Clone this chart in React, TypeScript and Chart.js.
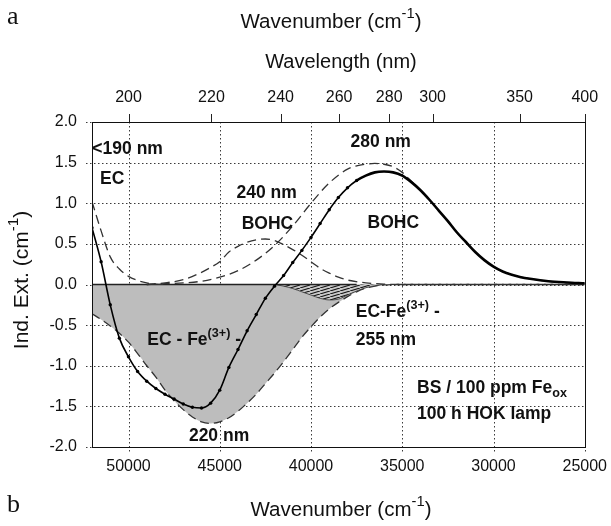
import React, { useEffect, useRef } from 'react';
import { Chart, registerables } from 'chart.js';

Chart.register(...registerables);

const FONT = "'Liberation Sans', Arial, Helvetica, sans-serif";

// Axis ticks
const wavenumberTicks = [50000, 45000, 40000, 35000, 30000, 25000];
const wavelengthTicks = [200, 220, 240, 260, 280, 300, 350, 400];

// Measured induced extinction (solid, beaded)
const wnMeasured = [52000, 51500, 51000, 50500, 50000, 49500, 49000, 48500, 48000, 47500, 47000, 46500, 46000, 45500, 45000, 44500, 44000, 43500, 43000, 42500, 42000, 41500, 41000, 40500, 40000, 39500, 39000, 38500, 38000, 37500, 37000, 36500, 36000, 35500, 35000, 34500, 34000, 33500, 33000, 32500, 32000, 31500, 31000, 30500, 30000, 29500, 29000, 28500, 28000, 27000, 26000, 25000];
const extMeasured = [0.70, 0.28, -0.25, -0.66, -0.89, -1.07, -1.19, -1.28, -1.35, -1.41, -1.47, -1.51, -1.52, -1.46, -1.30, -1.02, -0.80, -0.57, -0.37, -0.17, -0.02, 0.11, 0.27, 0.42, 0.58, 0.75, 0.92, 1.07, 1.19, 1.28, 1.34, 1.38, 1.39, 1.38, 1.34, 1.26, 1.16, 1.04, 0.91, 0.78, 0.64, 0.52, 0.40, 0.30, 0.22, 0.16, 0.12, 0.09, 0.07, 0.04, 0.025, 0.015];

// EC band (<190 nm), dashed
const wnEC = [52000, 51500, 51000, 50500, 50000, 49500, 49000, 48500, 48000];
const extEC = [1.02, 0.66, 0.34, 0.19, 0.10, 0.05, 0.02, 0.005, 0];

// BOHC 240 nm band, dashed
const wnBOHC240 = [49000, 48000, 47000, 46000, 45500, 45000, 44500, 44000, 43500, 43000, 42500, 42000, 41500, 41000, 40500, 40000, 39500, 39000, 38500, 38000, 37000, 36000, 35000, 25000];
const extBOHC240 = [0, 0.02, 0.06, 0.15, 0.21, 0.28, 0.40, 0.47, 0.52, 0.55, 0.56, 0.54, 0.49, 0.43, 0.36, 0.28, 0.20, 0.14, 0.09, 0.055, 0.02, 0.005, 0, 0];

// BOHC 280 nm band, dashed
const wnBOHC280 = [49000, 48000, 47000, 46000, 45000, 44000, 43000, 42000, 41000, 40000, 39000, 38000, 37500, 37000, 36500, 36000, 35500, 35000, 34500, 34000, 33000, 32000, 31000, 30000, 29000, 28000, 27000, 26000, 25000];
const extBOHC280 = [0, 0.01, 0.02, 0.04, 0.09, 0.17, 0.30, 0.48, 0.72, 1.00, 1.25, 1.42, 1.46, 1.48, 1.49, 1.48, 1.45, 1.38, 1.27, 1.16, 0.91, 0.64, 0.40, 0.22, 0.12, 0.07, 0.04, 0.025, 0.015];

// EC-Fe(3+) bands, sum envelope (grey area, dashed border)
const wnFeSum = [52000, 51500, 51000, 50500, 50000, 49500, 49000, 48500, 48000, 47500, 47000, 46500, 46000, 45500, 45000, 44500, 44000, 43500, 43000, 42500, 42000, 41500, 41000, 40500, 40000, 39500, 39000, 38500, 38000, 37500, 37000, 36500, 36000, 35000, 25000];
const extFeSum = [-0.36, -0.43, -0.51, -0.60, -0.71, -0.85, -1.00, -1.14, -1.30, -1.43, -1.54, -1.63, -1.69, -1.71, -1.69, -1.64, -1.56, -1.46, -1.35, -1.22, -1.09, -0.95, -0.80, -0.65, -0.52, -0.40, -0.30, -0.22, -0.15, -0.09, -0.045, -0.02, -0.005, 0, 0];

// EC-Fe(3+) 255 nm band (hatched)
const wnFe255 = [42000, 41500, 41000, 40500, 40000, 39500, 39000, 38500, 38000, 37500, 37000, 36500, 36000];
const extFe255 = [0, -0.02, -0.05, -0.09, -0.13, -0.17, -0.19, -0.18, -0.13, -0.08, -0.04, -0.015, 0];

// zero baseline along the top of the grey area
const wnBaseline = [52000, 37500];
const extBaseline = [0, 0];

type Part = [string, '' | 'sup' | 'sub'];
const notes: { parts: Part[]; wn: number; ext: number }[] = [
  { parts: [['<190 nm', '']], wn: 51980, ext: 1.66 },
  { parts: [['EC', '']], wn: 51560, ext: 1.30 },
  { parts: [['240 nm', '']], wn: 44080, ext: 1.13 },
  { parts: [['BOHC', '']], wn: 43800, ext: 0.74 },
  { parts: [['280 nm', '']], wn: 37830, ext: 1.75 },
  { parts: [['BOHC', '']], wn: 36900, ext: 0.76 },
  { parts: [['EC - Fe', ''], ['(3+)', 'sup'], [' -', '']], wn: 48970, ext: -0.68 },
  { parts: [['EC-Fe', ''], ['(3+)', 'sup'], [' -', '']], wn: 37550, ext: -0.34 },
  { parts: [['255 nm', '']], wn: 37550, ext: -0.68 },
  { parts: [['BS / 100 ppm Fe', ''], ['ox', 'sub']], wn: 34190, ext: -1.28 },
  { parts: [['100 h HOK lamp', '']], wn: 34190, ext: -1.59 },
  { parts: [['220 nm', '']], wn: 46690, ext: -1.87 },
];

const pts = (xs: number[], ys: number[]) => xs.map((x, i) => ({ x, y: ys[i] }));

function drawRich(ctx: CanvasRenderingContext2D, parts: Part[], x: number, y: number, align: 'left' | 'center', size: number, weight: string) {
  const small = size * 0.72;
  const fontOf = (s: number) => `${weight} ${s}px ${FONT}`;
  let total = 0;
  const widths = parts.map(([t, m]) => {
    ctx.font = fontOf(m ? small : size);
    const w = ctx.measureText(t).width;
    total += w;
    return w;
  });
  let cx = align === 'center' ? x - total / 2 : x;
  ctx.textBaseline = 'middle';
  ctx.textAlign = 'left';
  parts.forEach(([t, m], i) => {
    ctx.font = fontOf(m ? small : size);
    const dy = m === 'sup' ? -size * 0.38 : m === 'sub' ? size * 0.3 : 0;
    ctx.fillText(t, cx, y + dy);
    cx += widths[i];
  });
}

const gridPlugin = {
  id: 'dottedGrid',
  beforeDatasetsDraw(chart: any) {
    const ctx: CanvasRenderingContext2D = chart.ctx;
    const { left, right, top, bottom } = chart.chartArea;
    const xs = chart.scales.x;
    const ys = chart.scales.y;
    const x2 = chart.scales.x2;
    ctx.save();
    ctx.lineWidth = 1;
    ctx.strokeStyle = '#3a3a3a';
    ctx.setLineDash([1.5, 2.5]);
    ys.ticks.forEach((t: any) => {
      const py = Math.round(ys.getPixelForValue(t.value)) + 0.5;
      ctx.beginPath();
      ctx.moveTo(left - 6, py);
      ctx.lineTo(right, py);
      ctx.stroke();
    });
    xs.ticks.forEach((t: any) => {
      const px = Math.round(xs.getPixelForValue(t.value)) + 0.5;
      ctx.beginPath();
      ctx.moveTo(px, top);
      ctx.lineTo(px, bottom + 6);
      ctx.stroke();
    });
    ctx.setLineDash([]);
    ctx.strokeStyle = '#222';
    x2.ticks.forEach((t: any) => {
      const px = Math.round(x2.getPixelForValue(t.value)) + 0.5;
      ctx.beginPath();
      ctx.moveTo(px, top - 8);
      ctx.lineTo(px, top);
      ctx.stroke();
    });
    ctx.restore();
  },
};

const framePlugin = {
  id: 'frameAndTexts',
  afterDraw(chart: any) {
    const ctx: CanvasRenderingContext2D = chart.ctx;
    const { left, right, top, bottom } = chart.chartArea;
    const xs = chart.scales.x;
    const ys = chart.scales.y;
    ctx.save();
    ctx.strokeStyle = '#111';
    ctx.lineWidth = 1;
    ctx.strokeRect(Math.round(left) + 0.5, Math.round(top) + 0.5, Math.round(right - left), Math.round(bottom - top));
    ctx.fillStyle = '#111';
    notes.forEach((n) => drawRich(ctx, n.parts, xs.getPixelForValue(n.wn), ys.getPixelForValue(n.ext), 'left', 17.5, 'bold'));
    drawRich(ctx, [['Wavenumber (cm', ''], ['-1', 'sup'], [')', '']], 331, 22, 'center', 20.5, 'normal');
    drawRich(ctx, [['Wavelength (nm)', '']], 341, 62, 'center', 20, 'normal');
    drawRich(ctx, [['Wavenumber (cm', ''], ['-1', 'sup'], [')', '']], 341, 510, 'center', 20.5, 'normal');
    ctx.font = "26px 'Liberation Serif', 'Times New Roman', serif";
    ctx.textBaseline = 'middle';
    ctx.textAlign = 'left';
    ctx.fillText('a', 7, 17);
    ctx.fillText('b', 7, 505);
    ctx.translate(22, 280);
    ctx.rotate(-Math.PI / 2);
    drawRich(ctx, [['Ind. Ext. (cm', ''], ['-1', 'sup'], [')', '']], 0, 0, 'center', 21, 'normal');
    ctx.restore();
  },
};

export default function App() {
  const ref = useRef<HTMLCanvasElement>(null);
  useEffect(() => {
    document.body.style.margin = '0';
    const canvas = ref.current!;
    const pc = document.createElement('canvas');
    pc.width = 10;
    pc.height = 3;
    const p = pc.getContext('2d')!;
    p.fillStyle = '#c8c8c8';
    p.fillRect(0, 0, 10, 3);
    p.strokeStyle = '#111';
    p.lineWidth = 1.1;
    p.beginPath();
    for (let k = -1; k <= 1; k++) {
      p.moveTo(k * 10, 3);
      p.lineTo(k * 10 + 10, 0);
    }
    p.stroke();
    const hatch = p.createPattern(pc, 'repeat')!;

    const dashed = { borderColor: '#333', borderWidth: 1.3, borderDash: [9, 5], pointRadius: 0, fill: false, cubicInterpolationMode: 'monotone' as const };
    const tickFont = { size: 16, family: FONT };
    const noGrid = { color: 'rgba(0,0,0,0)', tickColor: 'rgba(0,0,0,0)' };
    const chart = new Chart(canvas, {
      type: 'line',
      data: {
        datasets: [
          {
            data: pts(wnMeasured, extMeasured),
            borderColor: '#000',
            borderWidth: 2.5,
            cubicInterpolationMode: 'monotone',
            segment: { borderWidth: (c: any) => (c.p0.parsed.x > 37500 ? 1.6 : 2.6) },
            pointRadius: (c: any) => (c.raw && c.raw.x >= 37500 ? 1.7 : 0),
            pointBackgroundColor: '#000',
            pointBorderWidth: 0,
            fill: false,
            order: 1,
          },
          { ...dashed, data: pts(wnEC, extEC), order: 3 },
          { ...dashed, data: pts(wnBOHC240, extBOHC240), order: 3 },
          { ...dashed, data: pts(wnBOHC280, extBOHC280), order: 3 },
          { data: pts(wnBaseline, extBaseline), borderColor: '#222', borderWidth: 1.4, pointRadius: 0, fill: false, order: 4 },
          {
            data: pts(wnFe255, extFe255),
            borderColor: '#333',
            borderWidth: 0.8,
            pointRadius: 0,
            cubicInterpolationMode: 'monotone',
            fill: 'origin',
            backgroundColor: hatch,
            order: 5,
          },
          { ...dashed, data: pts(wnFeSum, extFeSum), fill: 'origin', backgroundColor: '#bdbdbd', order: 6 },
        ],
      },
      options: {
        animation: false,
        responsive: false,
        maintainAspectRatio: false,
        layout: { padding: { left: 0, right: 22, top: 0, bottom: 0 } },
        plugins: { legend: { display: false }, tooltip: { enabled: false } },
        scales: {
          x: {
            type: 'linear',
            position: 'bottom',
            min: 25000,
            max: 52000,
            reverse: true,
            afterBuildTicks: (s: any) => {
              s.ticks = wavenumberTicks.map((v) => ({ value: v }));
            },
            afterFit: (s: any) => {
              s.height = 79;
            },
            ticks: { autoSkip: false, maxRotation: 0, font: tickFont, color: '#111', padding: 4, callback: (v: any) => String(v) },
            grid: { ...noGrid, tickLength: 6 },
            border: { display: false },
          },
          x2: {
            type: 'linear',
            position: 'top',
            min: 25000,
            max: 52000,
            reverse: true,
            afterBuildTicks: (s: any) => {
              s.ticks = wavelengthTicks.map((l) => ({ value: 1e7 / l }));
            },
            afterFit: (s: any) => {
              s.height = 122;
            },
            ticks: { autoSkip: false, maxRotation: 0, font: tickFont, color: '#111', padding: 7, callback: (v: any) => String(Math.round(1e7 / Number(v))) },
            grid: { ...noGrid, drawOnChartArea: false, tickLength: 8 },
            border: { display: false },
          },
          y: {
            type: 'linear',
            min: -2,
            max: 2,
            afterFit: (s: any) => {
              s.width = 92;
            },
            ticks: { stepSize: 0.5, font: tickFont, color: '#111', padding: 9, callback: (v: any) => Number(v).toFixed(1) },
            grid: { ...noGrid, tickLength: 6 },
            border: { display: false },
          },
        },
      },
      plugins: [gridPlugin, framePlugin],
    } as any);
    return () => chart.destroy();
  }, []);
  return <canvas ref={ref} width={611} height={526} style={{ display: 'block', width: 611, height: 526 }} />;
}
